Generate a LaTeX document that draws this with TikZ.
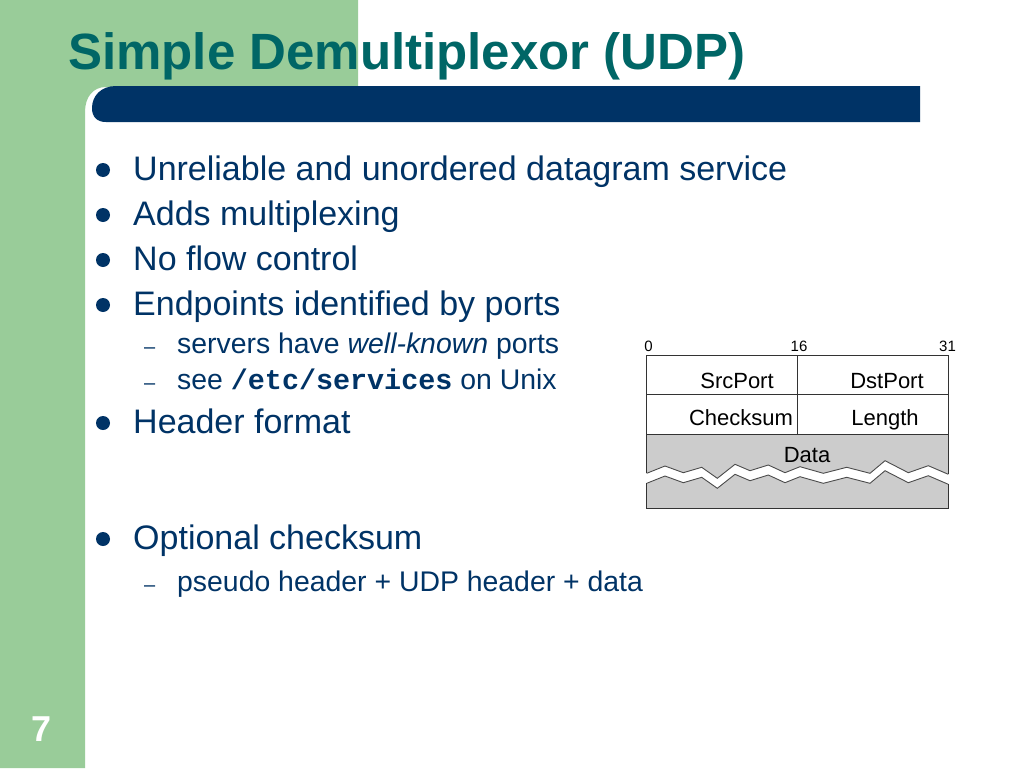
\documentclass[tikz,border=0pt]{standalone}
\usepackage{fontspec}
\setmainfont{Liberation Sans}
\setmonofont{Liberation Mono}
\definecolor{slidegreen}{RGB}{153,204,153}
\definecolor{navy}{RGB}{0,51,102}
\definecolor{titleteal}{RGB}{0,102,102}
\definecolor{datagray}{RGB}{204,204,204}
\begin{document}
\begin{tikzpicture}[x=1pt,y=-1pt,
  txt/.style={anchor=base west, inner sep=0pt, text=navy},
  mainitem/.style={txt, font=\fontsize{34}{40}\selectfont},
  subitem/.style={txt, font=\fontsize{28.4}{34}\selectfont},
  dotb/.style={circle, fill=navy, inner sep=0pt, minimum size=14pt},
  dashb/.style={txt, font=\fontsize{20}{24}\selectfont},
  lbl/.style={anchor=base, inner sep=0pt, font=\fontsize{22}{26}\selectfont},
  bitnum/.style={anchor=base, inner sep=0pt, font=\fontsize{15}{18}\selectfont},
  boxline/.style={draw=black!80, line width=0.9pt},
  jag/.style={draw=black!70, line width=0.9pt},
]
\useasboundingbox (0,0) rectangle (1024,768);
\fill[white] (0,0) rectangle (1024,768);
% green background
\fill[slidegreen] (0,0) -- (358,0) -- (358,87) -- (106,87)
  .. controls (93,87) and (85,97) .. (85,112) -- (85,768) -- (0,768) -- cycle;
% title bar
\fill[navy] (920,86) -- (116,86) .. controls (101,86) and (92,96) .. (92,108)
  .. controls (92,117) and (97,122) .. (106,122) -- (920,122) -- cycle;
% title
\node[anchor=base west, inner sep=0pt, text=titleteal,
  font=\fontsize{51}{58}\selectfont\bfseries] (title) at (68,69.5) {Simple Demultiplexor (UDP)};
% page number
\node[anchor=base, inner sep=0pt, text=white,
  font=\fontsize{36}{42}\selectfont\bfseries] (pagenum) at (42,741) {7};
% bullets
\node[dotb] (d1) at (103,170) {};
\node[mainitem] (t1) at (133,180) {Unreliable and unordered datagram service};
\node[dotb] (d2) at (103,215) {};
\node[mainitem] (t2) at (133,225) {Adds multiplexing};
\node[dotb] (d3) at (103,260) {};
\node[mainitem] (t3) at (133,270) {No flow control};
\node[dotb] (d4) at (103,305) {};
\node[mainitem] (t4) at (133,315) {Endpoints identified by ports};
\node[dashb] (s1d) at (144,353) {–};
\node[subitem] (s1) at (177,353) {servers have \textit{well-known} ports};
\node[dashb] (s2d) at (144,389) {–};
\node[subitem] (s2) at (177,389) {see \texttt{\bfseries /etc/services} on Unix};
\node[dotb] (d5) at (103,423) {};
\node[mainitem] (t5) at (133,433) {Header format};
\node[dotb] (d6) at (103,539) {};
\node[mainitem] (t6) at (133,549) {Optional checksum};
\node[dashb] (s3d) at (144,591) {–};
\node[subitem] (s3) at (177,591) {pseudo header + UDP header + data};
% UDP header diagram
\fill[datagray] (646.7,434) -- (948.3,434) -- (948.3,474.3)
  -- (928.3,465.7) -- (908.3,472.7) -- (885,460.7) -- (870,473.3) -- (846.7,467.3)
  -- (823.3,473.3) -- (800,466.7) -- (785,472.7) -- (768.3,465) -- (750,470.7)
  -- (735,464.3) -- (717.3,478.3) -- (701.7,467.3) -- (683.3,472.7) -- (665,466)
  -- (646.7,473.3) -- cycle;
\fill[datagray] (646.7,483.3) -- (665,476) -- (683.3,482.7) -- (701.7,477.3)
  -- (717.3,488.3) -- (735,474.3) -- (750,480.7) -- (768.3,475) -- (785,482.7)
  -- (800,476.7) -- (823.3,483.3) -- (846.7,477.3) -- (870,483.3) -- (885,470.7)
  -- (908.3,482.7) -- (928.3,475.7) -- (948.3,484.3) -- (948.3,508) -- (646.7,508) -- cycle;
\draw[jag] (646.7,473.3) -- (665,466) -- (683.3,472.7) -- (701.7,467.3) -- (717.3,478.3)
  -- (735,464.3) -- (750,470.7) -- (768.3,465) -- (785,472.7) -- (800,466.7)
  -- (823.3,473.3) -- (846.7,467.3) -- (870,473.3) -- (885,460.7) -- (908.3,472.7)
  -- (928.3,465.7) -- (948.3,474.3);
\draw[jag] (646.7,483.3) -- (665,476) -- (683.3,482.7) -- (701.7,477.3) -- (717.3,488.3)
  -- (735,474.3) -- (750,480.7) -- (768.3,475) -- (785,482.7) -- (800,476.7)
  -- (823.3,483.3) -- (846.7,477.3) -- (870,483.3) -- (885,470.7) -- (908.3,482.7)
  -- (928.3,475.7) -- (948.3,484.3);
\draw[boxline] (646.7,473.3) -- (646.7,355) -- (948.3,355) -- (948.3,474.3);
\draw[boxline] (646.7,483.3) -- (646.7,508) -- (948.3,508) -- (948.3,484.3);
\draw[boxline] (646.7,394) -- (948.3,394);
\draw[boxline] (646.7,434) -- (948.3,434);
\draw[boxline] (797,355) -- (797,434);
\node[bitnum] (b0) at (648.5,351) {0};
\node[bitnum] (b16) at (799,351) {16};
\node[bitnum] (b31) at (947.5,351) {31};
\node[lbl] (srcport) at (737,388) {SrcPort};
\node[lbl] (dstport) at (887,388) {DstPort};
\node[lbl] (checksum) at (741,425) {Checksum};
\node[lbl] (length) at (885,425) {Length};
\node[lbl] (data) at (807,462.5) {Data};
\end{tikzpicture}
\end{document}
